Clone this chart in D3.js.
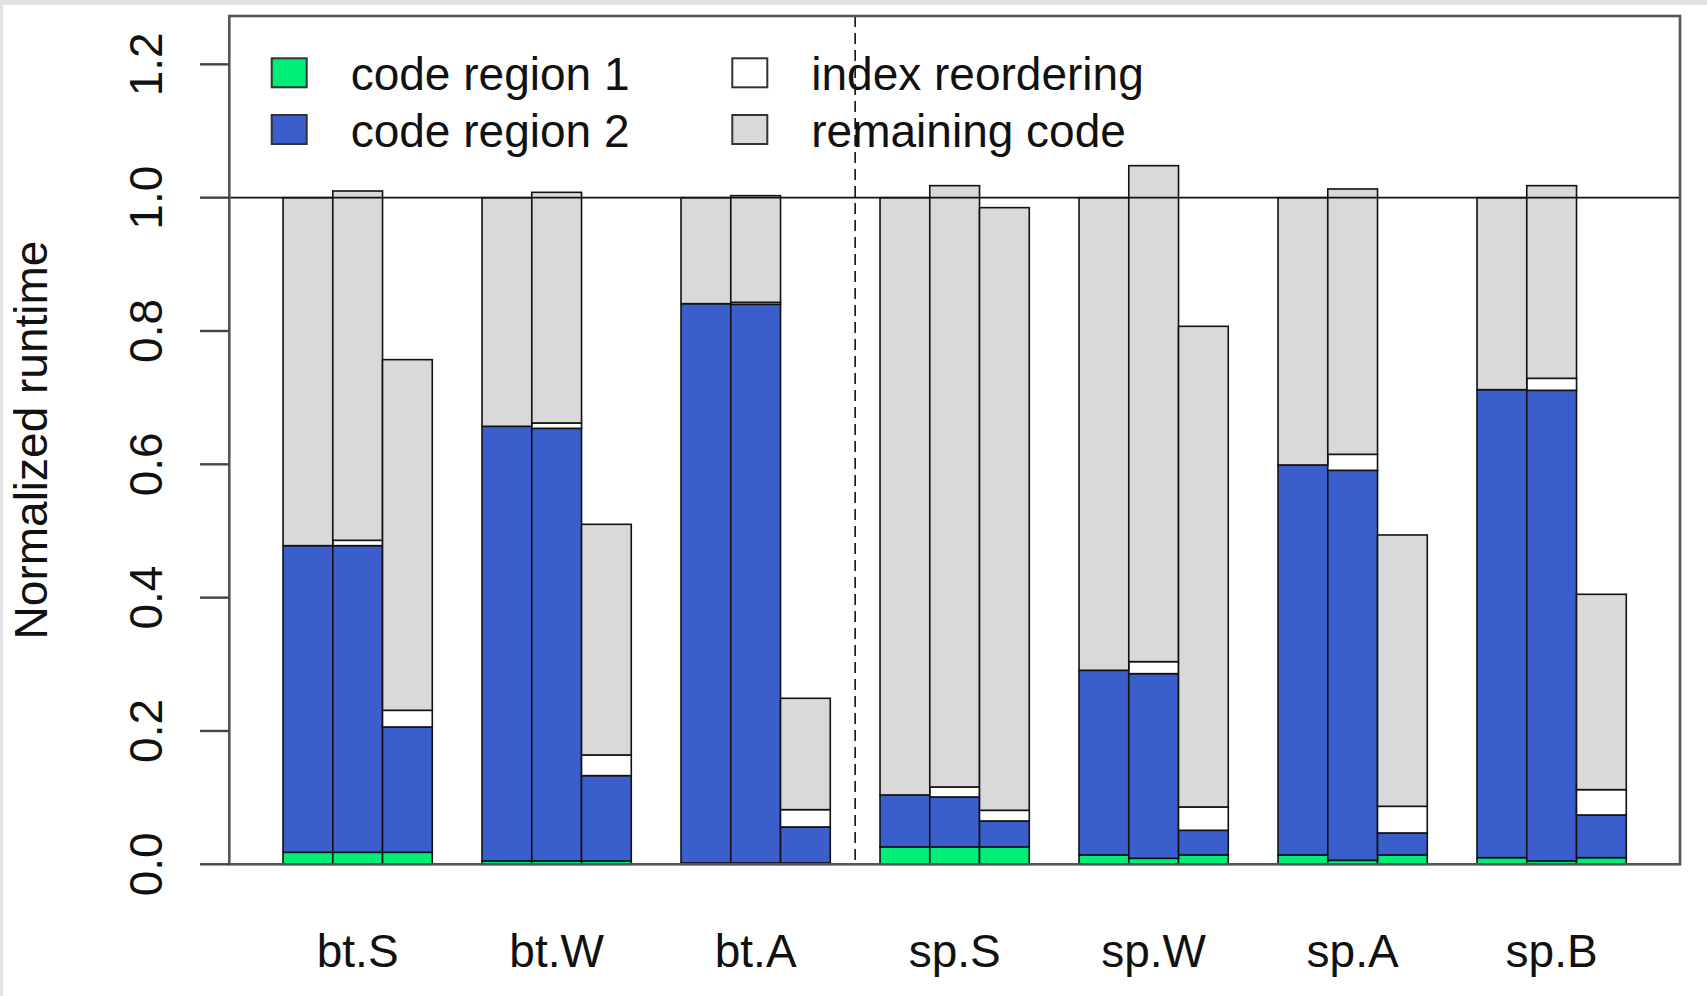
<!DOCTYPE html>
<html>
<head>
<meta charset="utf-8">
<script src="https://cdn.jsdelivr.net/npm/d3@7"></script>
<style>
  body { margin: 0; background: #fff; }
  svg { display: block; font-family: "Liberation Sans", Arial, sans-serif; }
</style>
</head>
<body>
<div id="chart"></div>
<script>
// benchmarks (groups) and the three variants shown per group
const groups = ['bt.S', 'bt.W', 'bt.A', 'sp.S', 'sp.W', 'sp.A', 'sp.B'];
const seriesNames = ['code region 1', 'code region 2', 'index reordering', 'remaining code'];
const seriesColors = ['#00ee76', '#3a5fcd', '#ffffff', '#d9d9d9'];

// segment heights, 3 bars per group, in group order
const region1 = [
  0.018, 0.018, 0.018,
  0.005, 0.005, 0.005,
  0.002, 0.002, 0.002,
  0.026, 0.026, 0.026,
  0.014, 0.009, 0.014,
  0.014, 0.006, 0.014,
  0.010, 0.005, 0.010,
];
const region2 = [
  0.460, 0.460, 0.188,
  0.652, 0.649, 0.128,
  0.839, 0.838, 0.054,
  0.078, 0.075, 0.039,
  0.277, 0.277, 0.037,
  0.585, 0.585, 0.033,
  0.702, 0.706, 0.064,
];
const reordering = [
  0.000, 0.008, 0.025,
  0.000, 0.008, 0.031,
  0.000, 0.003, 0.026,
  0.000, 0.015, 0.016,
  0.000, 0.018, 0.035,
  0.000, 0.024, 0.040,
  0.000, 0.018, 0.038,
];
const remaining = [
  0.522, 0.524, 0.526,
  0.343, 0.346, 0.346,
  0.159, 0.160, 0.167,
  0.896, 0.902, 0.904,
  0.709, 0.744, 0.721,
  0.401, 0.398, 0.407,
  0.288, 0.289, 0.293,
];
const yTicks = [0, 0.2, 0.4, 0.6, 0.8, 1.0, 1.2];

const W = 1707, H = 996;
const plotLeft = 229.3, plotRight = 1680, plotTop = 16, plotBottom = 864.3;
const fontSize = 46;

const svg = d3.select('#chart').append('svg')
  .attr('width', W)
  .attr('height', H);

// page frame like the screenshot
svg.append('rect').attr('width', W).attr('height', H).attr('fill', '#fff');
svg.append('rect').attr('width', W).attr('height', 5).attr('fill', '#e2e2e2');
svg.append('rect').attr('width', 3).attr('height', H).attr('fill', '#e2e2e2');

// one slot per bar, a one-slot gap before each group (R barplot style)
const slotOf = i => 1 + Math.floor(i / 3) * 4 + (i % 3);
const x = d3.scaleLinear().domain([-0.08, 29.08]).range([plotLeft, plotRight]);
const y = d3.scaleLinear().domain([0, 1.2725]).range([plotBottom, plotTop]);

const table = region1.map((d, i) => ({
  slot: slotOf(i),
  r1: d, r2: region2[i], ix: reordering[i], rem: remaining[i],
}));
const stack = d3.stack().keys(['r1', 'r2', 'ix', 'rem'])(table);

const layers = svg.append('g').selectAll('g')
  .data(stack)
  .enter().append('g')
  .attr('fill', (d, k) => seriesColors[k]);

layers.selectAll('rect')
  .data(d => d)
  .enter().append('rect')
  .attr('x', d => x(d.data.slot))
  .attr('width', d => x(d.data.slot + 1) - x(d.data.slot))
  .attr('y', d => y(d[1]))
  .attr('height', d => y(d[0]) - y(d[1]))
  .attr('stroke', '#111')
  .attr('stroke-width', 1.6);

// reference line at 1.0
svg.append('line')
  .attr('x1', plotLeft).attr('x2', plotRight)
  .attr('y1', y(1)).attr('y2', y(1))
  .attr('stroke', '#111')
  .attr('stroke-width', 1.8);

// separator between bt and sp
const sepX = x(12.5);
svg.append('line')
  .attr('x1', sepX).attr('x2', sepX)
  .attr('y1', plotTop).attr('y2', plotBottom)
  .attr('stroke', '#111')
  .attr('stroke-width', 1.6)
  .attr('stroke-dasharray', '11,6');

// plot box
svg.append('rect')
  .attr('x', plotLeft).attr('y', plotTop)
  .attr('width', plotRight - plotLeft).attr('height', plotBottom - plotTop)
  .attr('fill', 'none')
  .attr('stroke', '#555')
  .attr('stroke-width', 2.6);

// y axis ticks and labels (rotated, as in R)
const yAxis = svg.append('g');
yAxis.selectAll('line')
  .data(yTicks)
  .enter().append('line')
  .attr('x1', 200).attr('x2', plotLeft)
  .attr('y1', d => y(d)).attr('y2', d => y(d))
  .attr('stroke', '#444')
  .attr('stroke-width', 2.4);
yAxis.selectAll('text')
  .data(yTicks)
  .enter().append('text')
  .attr('transform', d => `translate(162,${y(d)}) rotate(-90)`)
  .attr('text-anchor', 'middle')
  .attr('font-size', fontSize)
  .attr('fill', '#111')
  .text(d => d.toFixed(1));

svg.append('text')
  .attr('transform', 'translate(47,440) rotate(-90)')
  .attr('text-anchor', 'middle')
  .attr('font-size', fontSize)
  .attr('fill', '#111')
  .text('Normalized runtime');

// group labels under the middle bar of each group
svg.append('g').selectAll('text')
  .data(groups)
  .enter().append('text')
  .attr('x', (d, g) => x(1 + g * 4 + 1.5))
  .attr('y', 967)
  .attr('text-anchor', 'middle')
  .attr('font-size', fontSize)
  .attr('fill', '#111')
  .text(d => d);

// legend, two columns
const legendCols = [271.7, 732.3];
const legendRows = [58.3, 115];
const legend = svg.append('g').selectAll('g')
  .data(seriesNames)
  .enter().append('g')
  .attr('transform', (d, k) => `translate(${legendCols[Math.floor(k / 2)]},${legendRows[k % 2]})`);
legend.append('rect')
  .attr('width', 35).attr('height', 29)
  .attr('fill', (d, k) => seriesColors[k])
  .attr('stroke', '#333')
  .attr('stroke-width', 2);
legend.append('text')
  .attr('x', 79)
  .attr('y', 31.5)
  .attr('font-size', fontSize)
  .attr('fill', '#111')
  .text(d => d);
</script>
</body>
</html>
